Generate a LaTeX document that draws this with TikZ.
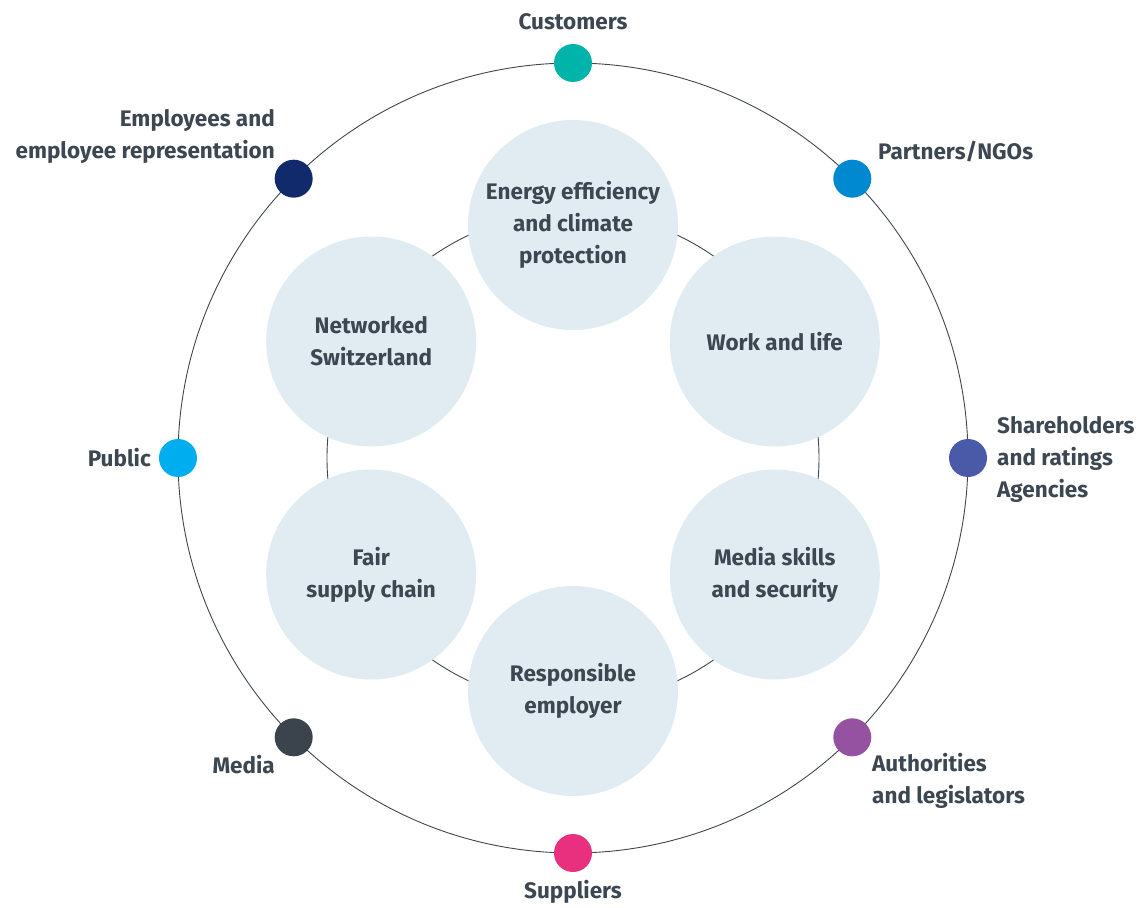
\documentclass[tikz,border=0pt]{standalone}
\usepackage{fontspec}
\setmainfont{Fira Sans}
\usepackage{xcolor}
\usepackage{tikz}
\definecolor{textGray}{RGB}{61, 71, 81}
\definecolor{topicFill}{RGB}{225, 235, 242}
\definecolor{custTeal}{RGB}{0, 180, 170}
\definecolor{partBlue}{RGB}{0, 137, 208}
\definecolor{shareBlue}{RGB}{74, 90, 168}
\definecolor{authPurple}{RGB}{149, 82, 161}
\definecolor{suppPink}{RGB}{232, 48, 126}
\definecolor{mediaGray}{RGB}{59, 68, 76}
\definecolor{publicCyan}{RGB}{0, 174, 239}
\definecolor{emplNavy}{RGB}{17, 42, 107}

\tikzset{
    ringline/.style={draw=textGray, line width=0.9pt},
    topicbox/.style={circle, fill=topicFill, minimum size=210pt, inner sep=0pt,
        align=center, text=textGray, font=\fontsize{22.5}{32}\selectfont\bfseries},
    groupdot/.style={circle, minimum size=38pt, inner sep=0pt},
    grouplabel/.style={inner sep=0pt, text=textGray,
        font=\fontsize{22.5}{32}\selectfont\bfseries}
}

\begin{document}
\begin{tikzpicture}[x=1pt,y=1pt]
\useasboundingbox (-573,-449) rectangle (572,458);
% Outer and inner rings
\draw[ringline] (0,0) circle (395pt);
\draw[ringline] (0,0) circle (246pt);
% Six topics on the inner ring
\foreach \i/\ang/\txt in {
    1/90/{Energy efficiency\\and climate\\protection},
    2/30/{Work and life},
    3/-30/{Media skills\\and security},
    4/-90/{Responsible\\employer},
    5/-150/{Fair\\supply chain},
    6/150/{Networked\\Switzerland}} {
    \node[topicbox] (topic-\i) at (\ang:233) {\txt};
}
% Stakeholder groups on the outer ring
\foreach \i/\ang/\col in {
    1/90/custTeal, 2/45/partBlue, 3/0/shareBlue, 4/-45/authPurple,
    5/-90/suppPink, 6/-135/mediaGray, 7/180/publicCyan, 8/135/emplNavy} {
    \node[groupdot, fill=\col] (group-\i) at (\ang:395) {};
}
\foreach \i/\pos/\anc/\al/\txt in {
    1/{0,436}/center/center/{Customers},
    2/{305,306}/west/left/{Partners/NGOs},
    3/{424,-1}/west/left/{Shareholders\\and ratings\\Agencies},
    4/{299,-323}/west/left/{Authorities\\and legislators},
    5/{0,-434}/center/center/{Suppliers},
    6/{-298,-307}/east/right/{Media},
    7/{-422,0}/east/right/{Public},
    8/{-298,322}/east/right/{Employees and\\employee representation}} {
    \node[grouplabel, anchor=\anc, align=\al] (glabel-\i) at (\pos) {\txt};
}
\end{tikzpicture}
\end{document}
